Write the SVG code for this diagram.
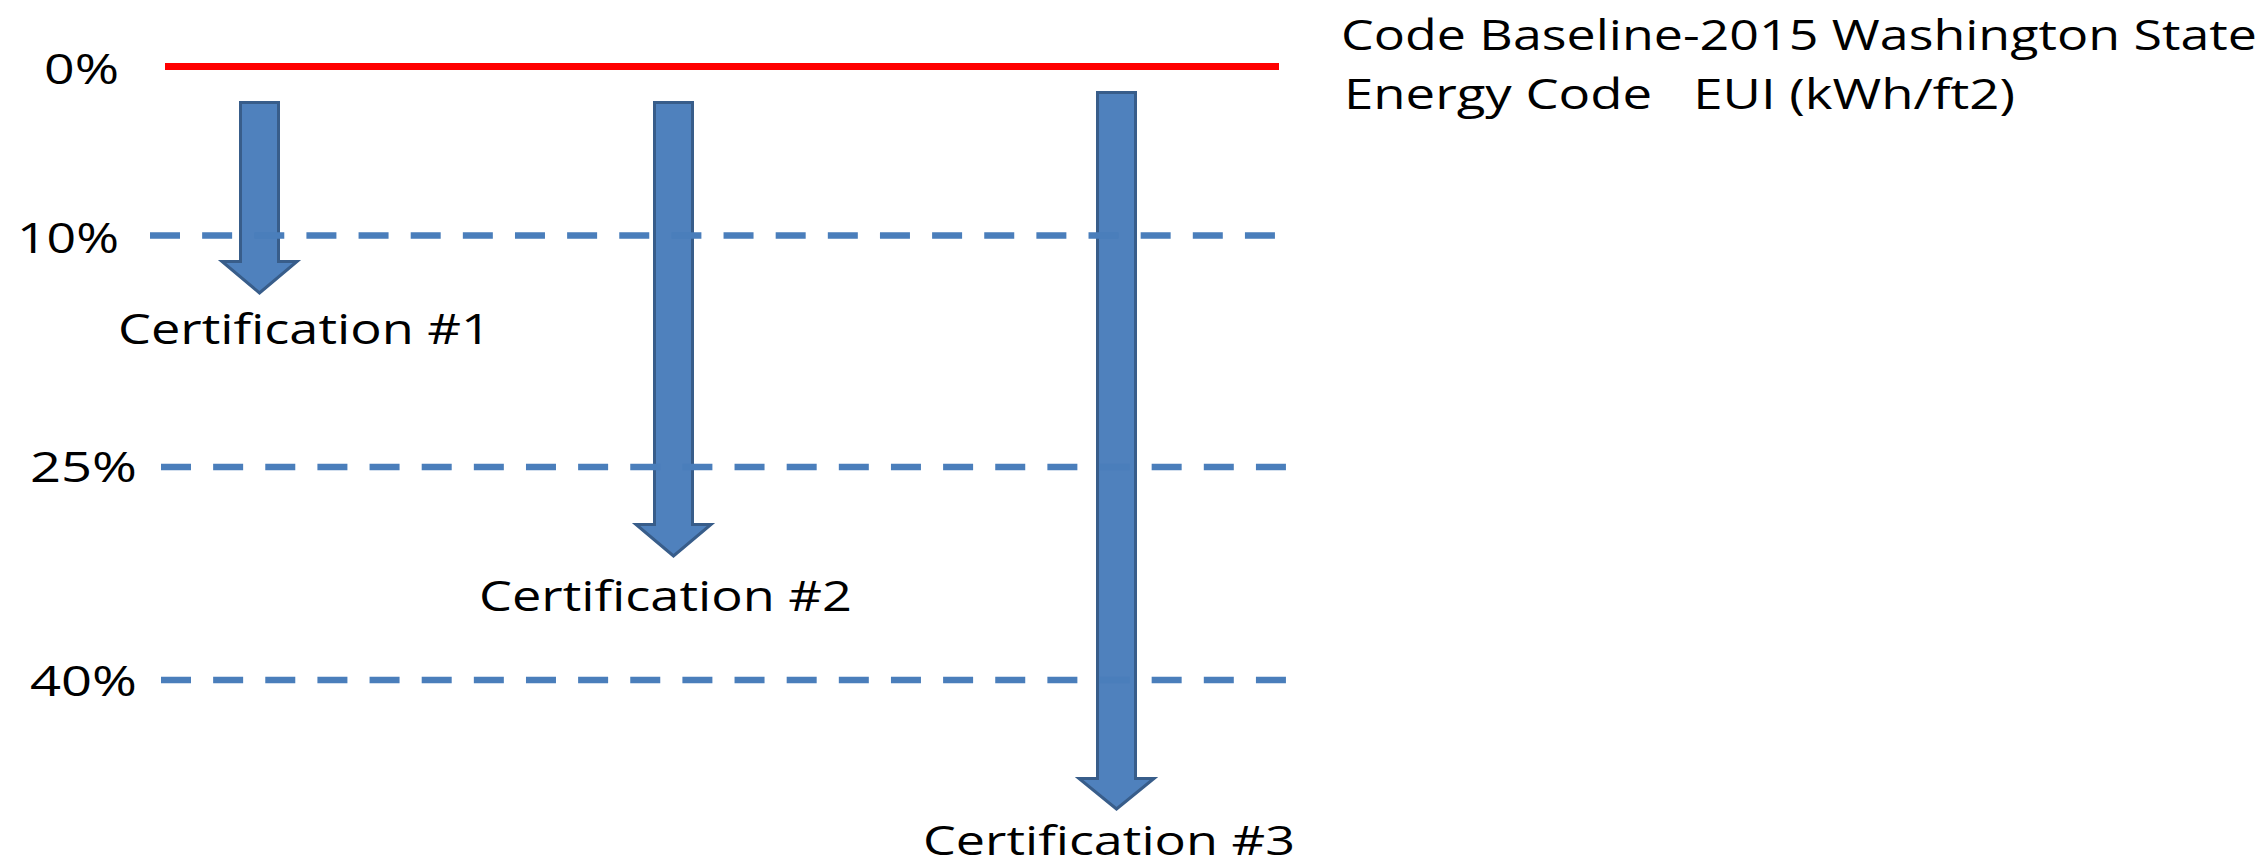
<svg xmlns="http://www.w3.org/2000/svg" width="2265" height="868" viewBox="0 0 2265 868">
  <style>
    .lbl { font-family: "Open Sans", "Liberation Sans", sans-serif; font-size: 42px; fill: #000; }
    .arrow { fill: #4F81BD; stroke: #385D8A; stroke-width: 3; stroke-linejoin: miter; }
    .level { stroke: #4A7EBB; stroke-width: 6.5; stroke-dasharray: 30 22.14; fill: none; }
    .base { stroke: #FF0000; stroke-width: 7; fill: none; }
  </style>
  <rect width="2265" height="868" fill="#FFFFFF"/>

  <!-- code baseline: red reference line, 0% label and caption -->
  <g id="baseline">
    <line class="base" x1="165" y1="66.5" x2="1279" y2="66.5"/>
    <text class="lbl" x="44" y="84" textLength="75" lengthAdjust="spacingAndGlyphs">0%</text>
    <text class="lbl" x="1341" y="50" textLength="916" lengthAdjust="spacingAndGlyphs">Code Baseline-2015 Washington State</text>
    <text class="lbl" x="1344" y="109" textLength="671" lengthAdjust="spacingAndGlyphs" xml:space="preserve" style="white-space:pre">Energy Code   EUI (kWh/ft2)</text>
  </g>

  <!-- certification arrows with their labels -->
  <g id="cert-1">
    <path class="arrow" d="M240.5,102.5 H278.5 V261.5 H297 L259.5,293 L222,261.5 H240.5 Z"/>
    <text class="lbl" x="118" y="344" textLength="373" lengthAdjust="spacingAndGlyphs">Certification #1</text>
  </g>
  <g id="cert-2">
    <path class="arrow" d="M654.5,102.5 H692.5 V524.5 H711 L673.5,556 L636,524.5 H654.5 Z"/>
    <text class="lbl" x="479" y="611" textLength="373" lengthAdjust="spacingAndGlyphs">Certification #2</text>
  </g>
  <g id="cert-3">
    <path class="arrow" d="M1097.5,92.5 H1135.5 V778.5 H1154 L1116.5,809 L1079,778.5 H1097.5 Z"/>
    <text class="lbl" x="923" y="855" style="font-size:41px" textLength="372" lengthAdjust="spacingAndGlyphs">Certification #3</text>
  </g>

  <!-- savings levels: labels on the left -->
  <g id="level-10">
    <text class="lbl" x="17" y="253" textLength="102" lengthAdjust="spacingAndGlyphs">10%</text>
  </g>
  <g id="level-25">
    <text class="lbl" x="30" y="482" textLength="107" lengthAdjust="spacingAndGlyphs">25%</text>
  </g>
  <g id="level-40">
    <text class="lbl" x="30" y="696" textLength="107" lengthAdjust="spacingAndGlyphs">40%</text>
  </g>

  <!-- dashed level lines, drawn over the arrows -->
  <g id="connectors">
    <line class="level" x1="150" y1="235.5" x2="1275" y2="235.5"/>
    <line class="level" x1="161" y1="467" x2="1286" y2="467"/>
    <line class="level" x1="161" y1="680" x2="1286" y2="680"/>
  </g>
</svg>
